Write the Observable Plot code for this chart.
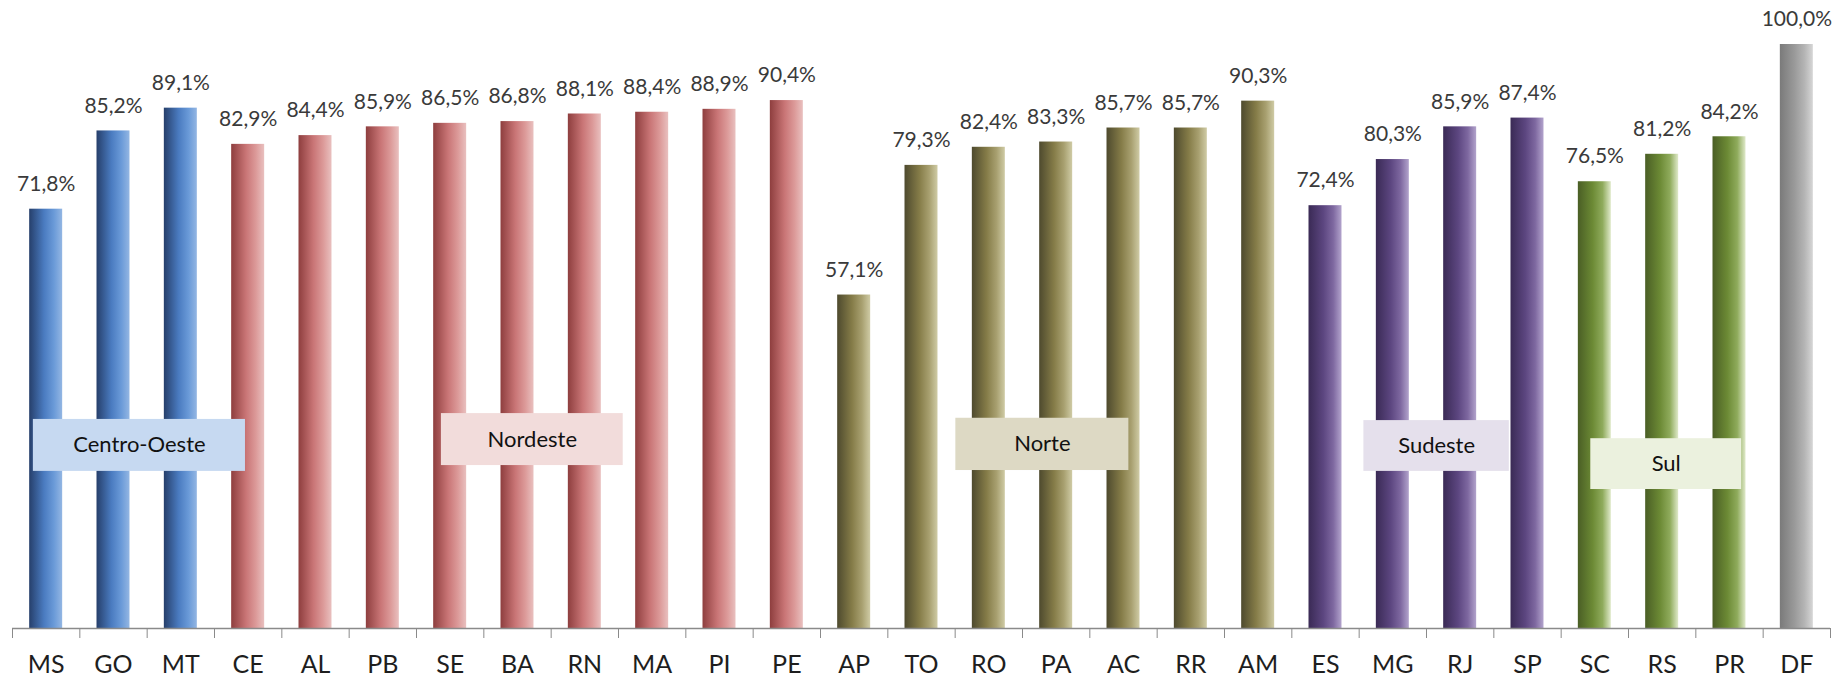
<!DOCTYPE html>
<html>
<head>
<meta charset="utf-8">
<script src="https://cdn.jsdelivr.net/npm/d3@7"></script>
<script src="https://cdn.jsdelivr.net/npm/@observablehq/plot@0.6"></script>
<style>
  html, body { margin: 0; padding: 0; background: #ffffff; }
  #chart svg { display: block; }
</style>
</head>
<body>
<div id="chart"></div>
<script>
// ---- data ----
const states = ["MS","GO","MT","CE","AL","PB","SE","BA","RN","MA","PI","PE","AP","TO","RO","PA","AC","RR","AM","ES","MG","RJ","SP","SC","RS","PR","DF"];
const values = [71.8,85.2,89.1,82.9,84.4,85.9,86.5,86.8,88.1,88.4,88.9,90.4,57.1,79.3,82.4,83.3,85.7,85.7,90.3,72.4,80.3,85.9,87.4,76.5,81.2,84.2,100.0];
const regionOf = ["co","co","co","ne","ne","ne","ne","ne","ne","ne","ne","ne","n","n","n","n","n","n","n","se","se","se","se","s","s","s","df"];
const regionKeys = ["co","ne","n","se","s","df"];
const regionNames = ["Centro-Oeste","Nordeste","Norte","Sudeste","Sul"];
// region label boxes, in data units (x: category index, y: percent)
const boxX1 = [-0.19, 5.87, 13.51, 19.57, 22.94];
const boxX2 = [2.96, 8.57, 16.08, 21.73, 25.18];
const boxY1 = [26.9, 27.9, 27.05, 26.9, 23.8];
const boxY2 = [35.8, 36.8, 36.0, 35.6, 32.5];

// ---- styles ----
const gradients = {
  co: ["#263f6b", "#4a7bc0", "#6a9ad8", "#93b6e3"],
  ne: ["#8e3e3e", "#c97576", "#dc9a99", "#e9c0bf"],
  n:  ["#4e4a2e", "#857c48", "#a8a070", "#cfcba5"],
  se: ["#3a2a55", "#5c4680", "#7e68a0", "#b2a3cc"],
  s:  ["#4a5e25", "#6c8a35", "#8fab5c", "#dfe9c9"],
  df: ["#7a7a7a", "#9a9a9a", "#b5b5b5", "#d6d6d6"]
};
const boxFill = ["#c6d9f1", "#f2dcdb", "#ddd9c4", "#e5e0ec", "#ebf1de"];

const data = states.map((s, i) => ({state: s, value: values[i], i, region: regionOf[i]}));
const boxes = regionNames.map((name, k) => ({name, x1: boxX1[k], x2: boxX2[k], y1: boxY1[k], y2: boxY2[k], fill: boxFill[k]}));
const boundaries = d3.range(states.length + 1).map(k => k - 0.5);
const fmt = v => v.toFixed(1).replace(".", ",") + "%";

const barMarks = regionKeys.map(r => Plot.rectY(data.filter(d => d.region === r), {
  x1: d => d.i - 0.245,
  x2: d => d.i + 0.245,
  y1: 0,
  y2: "value",
  fill: `url(#grad-${r})`
}));

const chart = Plot.plot({
  width: 1837,
  height: 680,
  marginLeft: 12,
  marginRight: 7,
  marginTop: 44,
  marginBottom: 52,
  style: {fontFamily: "Lato, 'Open Sans', sans-serif", background: "#ffffff"},
  x: {domain: [-0.5, states.length - 0.5], axis: null},
  y: {domain: [0, 100], axis: null},
  marks: [
    ...barMarks,
    Plot.rect(boxes, {x1: "x1", x2: "x2", y1: "y1", y2: "y2", fill: "fill"}),
    Plot.text(boxes, {x: d => (d.x1 + d.x2) / 2, y: d => (d.y1 + d.y2) / 2, text: "name", fontSize: 22, fill: "#111111"}),
    Plot.text(data, {x: "i", y: "value", text: d => fmt(d.value), dy: -25, fontSize: 21, fill: "#3a3a3a"}),
    Plot.ruleY([0], {stroke: "#8a8a8a", strokeWidth: 1.3}),
    Plot.axisX({ticks: boundaries, tickSize: 10, tickFormat: () => "", stroke: "#8a8a8a"}),
    Plot.text(data, {x: "i", y: 0, text: "state", dy: 36, fontSize: 25, fill: "#1e1e1e"})
  ]
});

// gradient definitions
const svg = d3.select(chart);
const defs = svg.insert("defs", ":first-child");
for (const r of regionKeys) {
  const g = defs.append("linearGradient").attr("id", `grad-${r}`).attr("x1", 0).attr("x2", 1).attr("y1", 0).attr("y2", 0);
  const stops = gradients[r];
  const offs = [0, 0.45, 0.75, 1];
  stops.forEach((c, k) => g.append("stop").attr("offset", offs[k]).attr("stop-color", c));
}

document.getElementById("chart").appendChild(chart);
</script>
</body>
</html>
